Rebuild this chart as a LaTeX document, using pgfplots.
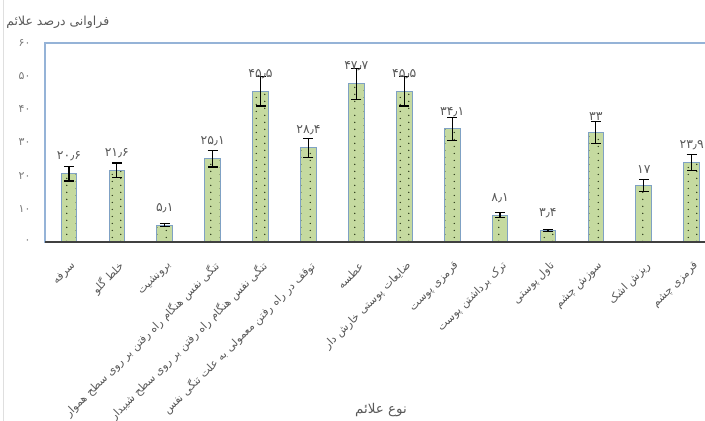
\documentclass[border=0pt]{standalone}
\usepackage{fontspec}
\setmainfont{Liberation Sans}
\newfontfamily\fa[Script=Arabic]{DejaVu Sans}
\TeXXeTstate=1
\usepackage{pgfplots}
\pgfplotsset{compat=1.18}
\usetikzlibrary{patterns}

\definecolor{barfill}{HTML}{C5DAA0}
\definecolor{barline}{HTML}{7FA1C4}
\definecolor{framec}{HTML}{95B3D7}
\definecolor{dotc}{HTML}{2A3818}
\definecolor{textc}{HTML}{595959}

% staggered dots like the Excel fill
\pgfdeclarepatternformonly{bardots}{\pgfpointorigin}{\pgfpoint{18bp}{7bp}}{\pgfpoint{18bp}{7bp}}{%
  \pgfpathcircle{\pgfpoint{4.5bp}{1.75bp}}{0.8bp}%
  \pgfpathcircle{\pgfpoint{13.5bp}{5.25bp}}{0.8bp}%
  \pgfusepath{fill}}

\newcommand\R[1]{{\fa\beginR #1\endR}}

% value, error, label (one word each)
\pgfplotstableread{
x  y     err  lab
0  20.6  2.2  ۲۰٫۶
1  21.6  2.2  ۲۱٫۶
2  5.1   0.5  ۵٫۱
3  25.1  2.5  ۲۵٫۱
4  45.5  4.5  ۴۵٫۵
5  28.4  2.9  ۲۸٫۴
6  47.7  4.7  ۴۷٫۷
7  45.5  4.5  ۴۵٫۵
8  34.1  3.4  ۳۴٫۱
9  8.1   0.75 ۸٫۱
10 3.4   0.35 ۳٫۴
11 33    3.3  ۳۳
12 17    1.75 ۱۷
13 23.9  2.4  ۲۳٫۹
}\symptoms

\begin{document}
\begin{tikzpicture}
\draw[gray!25, line width=1bp] (3bp,0) -- (3bp,421bp);
\begin{axis}[
    at={(45bp,179bp)}, anchor=south west,
    scale only axis, width=670.6bp, height=199bp,
    xmin=-0.5, xmax=13.5, ymin=0, ymax=60,
    ybar, bar width=15.7bp,
    axis on top,
    axis line style={draw=framec, line width=1.1bp},
    tick style={draw=none},
    xtick={0,...,13},
    xticklabels={
        \R{سرفه},
        \R{خلط گلو},
        \R{برونشیت},
        \R{تنگی نفس هنگام راه رفتن بر روی سطح هموار},
        \R{تنگی نفس هنگام راه رفتن بر روی سطح شیبدار},
        \R{توقف در راه رفتن معمولی به علت تنگی نفس},
        \R{عطسه},
        \R{ضایعات پوستی خارش دار},
        \R{قرمزی پوست},
        \R{ترک برداشتن پوست},
        \R{تاول پوستی},
        \R{سوزش چشم},
        \R{ریزش اشک},
        \R{قرمزی چشم}},
    xticklabel style={xshift=5bp, yshift=-18bp, rotate=45, anchor=east,
        inner sep=0pt, font=\fontsize{11}{13}\selectfont, text=textc},
    ytick={0,10,...,60},
    yticklabels={۰,۱۰,۲۰,۳۰,۴۰,۵۰,۶۰},
    yticklabel style={font=\fa\fontsize{11}{13}\selectfont, text=textc!80, xshift=-11bp},
    extra y ticks={0}, extra y tick labels={},
    extra y tick style={grid=major, major grid style={draw=black!75, line width=1.6bp}},
    ylabel={\R{فراوانی درصد علائم}},
    every axis y label/.style={at={(axis description cs:0.101,1.106)}, anchor=east,
        font=\fontsize{12.5}{14}\selectfont, text=textc},
    xlabel={\R{نوع علائم}},
    every axis x label/.style={at={(axis description cs:0.501,-0.844)}, anchor=center,
        font=\fontsize{13.5}{15}\selectfont, text=textc},
]
\addplot[bar shift=0pt, fill=barfill, draw=barline, line width=0.9bp]
    table[x=x, y=y] {\symptoms};
\addplot[bar shift=0pt, draw=barline, line width=0.9bp,
    pattern=bardots, pattern color=dotc,
    nodes near coords, point meta=explicit symbolic,
    every node near coord/.append style={font=\fa\fontsize{12.5}{14}\selectfont,
        text=textc, inner sep=0pt, anchor=south, yshift=12bp},
    error bars/.cd, y dir=both, y explicit,
    error bar style={black, line width=1.2bp},
    error mark options={black, rotate=90, line width=1.2bp, mark size=5bp}]
    table[x=x, y=y, y error=err, meta=lab] {\symptoms};
\end{axis}
\pgfresetboundingbox
\useasboundingbox (0,0) rectangle (705bp,421bp);
\end{tikzpicture}
\end{document}
